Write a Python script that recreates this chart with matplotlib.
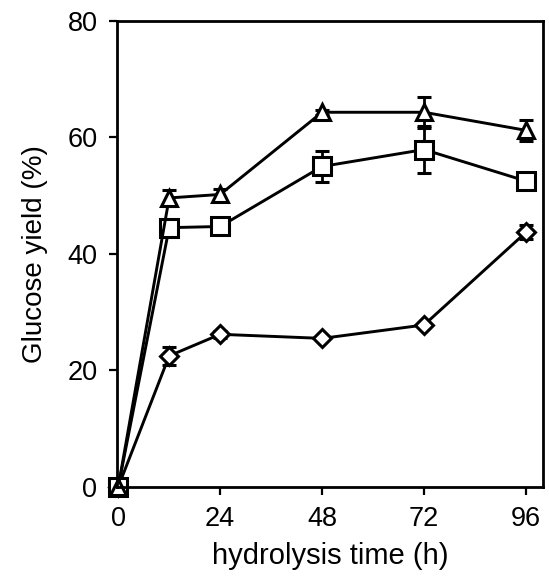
import numpy as np
import matplotlib.pyplot as plt

plt.rcParams['font.family'] = ['Liberation Sans', 'DejaVu Sans']

time_h = [0, 12, 24, 48, 72, 96]

tri_y = [0, 49.6, 50.2, 64.3, 64.3, 61.2]
tri_err = [0, 1.3, 0.9, 0.4, 2.7, 1.8]

sq_y = [0, 44.5, 44.7, 55.0, 57.9, 52.5]
sq_err = [0, 0.4, 0.4, 2.6, 4.0, 0.5]

dia_y = [0, 22.5, 26.2, 25.5, 27.8, 43.7]
dia_err = [0, 1.6, 0.6, 0.3, 0.4, 1.2]

xticks = [0, 24, 48, 72, 96]
yticks = [0, 20, 40, 60, 80]


def main():
    fig = plt.figure(figsize=(5.49, 5.77), dpi=100)
    ax = fig.add_axes([0.213, 0.156, 0.776, 0.808])

    common = dict(color='black', lw=2.1, mfc='white', mec='black', mew=2.2,
                  capsize=5, capthick=2.2, elinewidth=2.0, clip_on=False)
    ax.errorbar(time_h, dia_y, yerr=dia_err, marker='D', ms=9.5, **common)
    ax.errorbar(time_h, sq_y, yerr=sq_err, marker='s', ms=13, **common)
    ax.errorbar(time_h, tri_y, yerr=tri_err, marker='^', ms=12, **common)

    ax.set_xlim(-0.3, 100)
    ax.set_ylim(0, 80)
    ax.set_xticks(xticks)
    ax.set_yticks(yticks)
    ax.tick_params(direction='out', length=6, width=1.6, labelsize=19.5, pad=8)
    for s in ax.spines.values():
        s.set_linewidth(2.0)

    ax.set_xlabel('hydrolysis time (h)', fontsize=21, labelpad=7)
    ax.set_ylabel('Glucose yield (%)', fontsize=20, labelpad=14)

    fig.savefig('out.png', dpi=100)


main()
